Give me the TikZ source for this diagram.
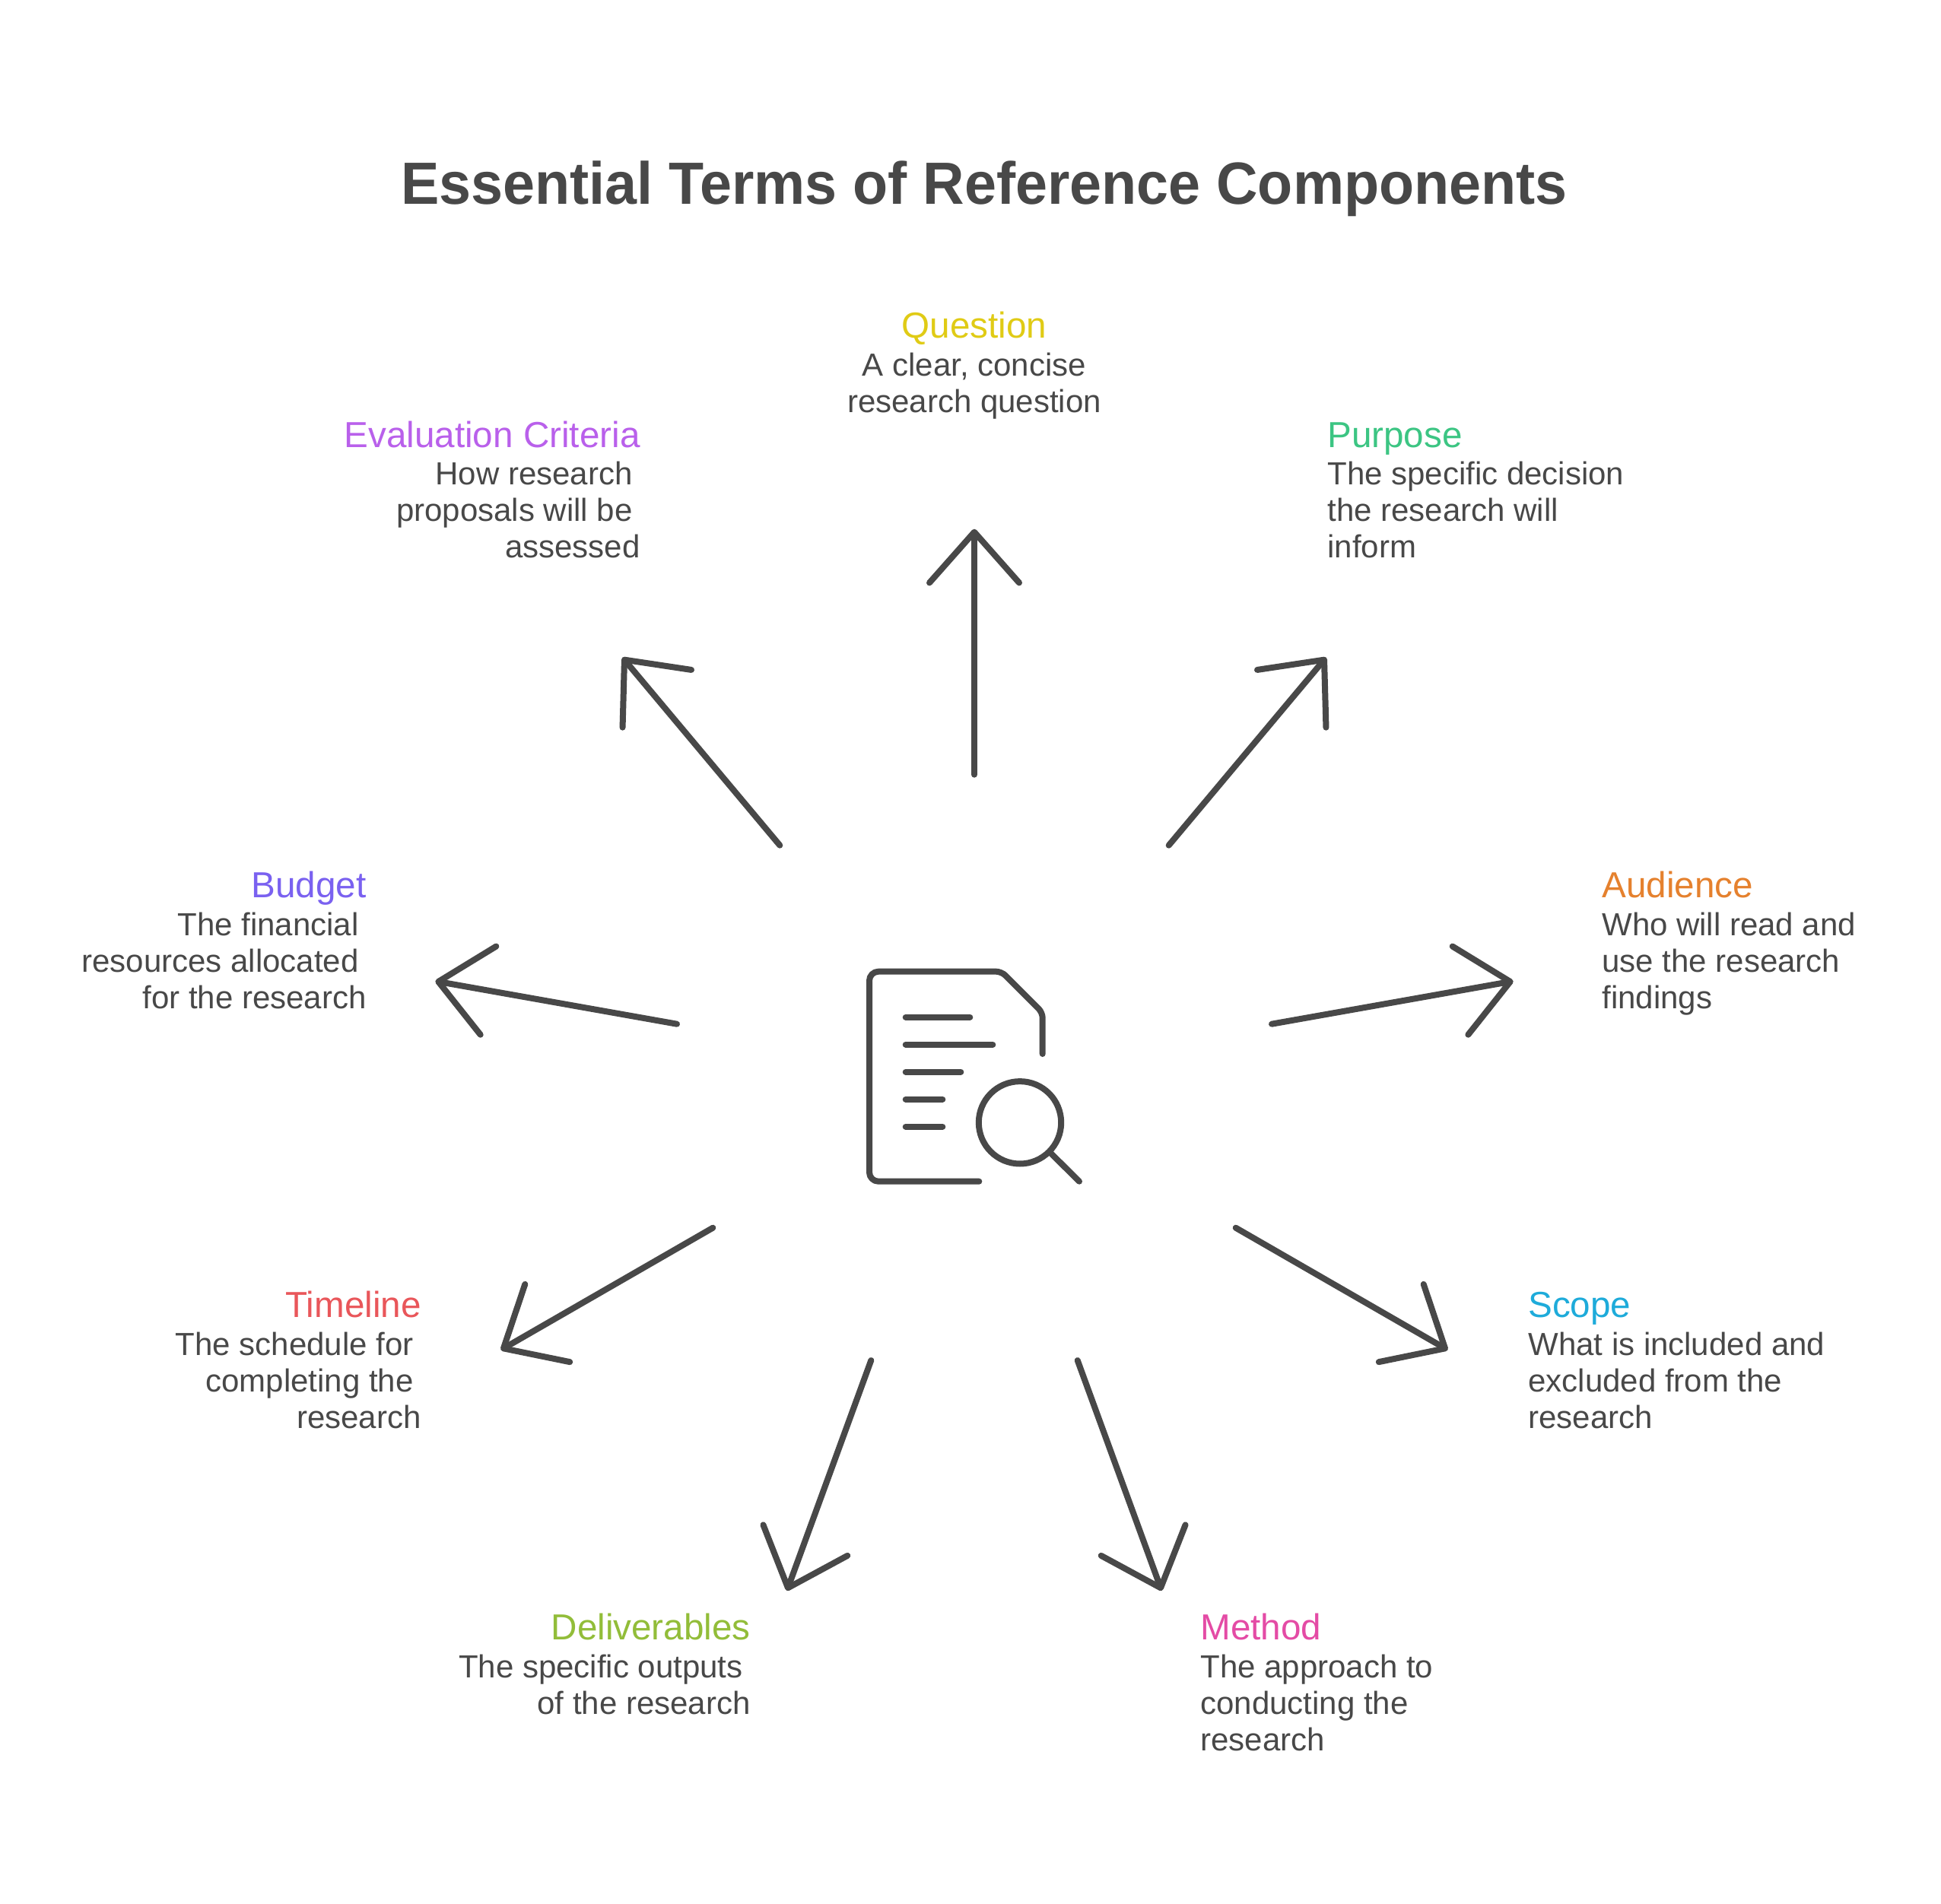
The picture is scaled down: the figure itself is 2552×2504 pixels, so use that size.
\documentclass[tikz,border=0pt]{standalone}
\usepackage{fontspec}
\setmainfont{Liberation Sans}
\newfontfamily\titlefont[FakeStretch=0.963]{Liberation Sans}
\usetikzlibrary{arrows.meta}
\definecolor{ink}{HTML}{484848}
\definecolor{cQuestion}{HTML}{E0CB15}
\definecolor{cPurpose}{HTML}{3CC583}
\definecolor{cAudience}{HTML}{E5812E}
\definecolor{cScope}{HTML}{1EABDA}
\definecolor{cMethod}{HTML}{E44BA5}
\definecolor{cDeliver}{HTML}{92BD39}
\definecolor{cTimeline}{HTML}{E9565A}
\definecolor{cBudget}{HTML}{7A61F0}
\definecolor{cEval}{HTML}{B960EB}
\newcommand{\hd}[2]{{\color{#1}\fontsize{27.1}{27.3}\selectfont #2}\\[0.9pt]}
\newcommand{\ts}{\kern5.7pt}
\tikzset{
  x=0.02cm,y=-0.02cm,
  line/.style={draw=ink,line width=0.16cm,line cap=round,line join=round},
  ray/.style={line,-{Straight Barb[length=1.334cm,width=2.36cm,round]}},
  lbl/.style={inner sep=0pt,text=ink,font=\fontsize{23.9}{27.3}\selectfont},
  lleft/.style={lbl,anchor=base west,align=left},
  lright/.style={lbl,anchor=base east,align=right},
  lmid/.style={lbl,anchor=base,align=center},
  title/.style={inner sep=0pt,anchor=base,text=ink,font=\titlefont\bfseries\fontsize{44.6}{50}\selectfont}
}
\begin{document}
\begin{tikzpicture}
\useasboundingbox (0,0) rectangle (2552,2504);
\fill[white] (0,0) rectangle (2552,2504);
\node[title] (heading) at (1294,269) {Essential Terms of Reference Components};

\node[lmid] (question) at (1281,542.5) {\hd{cQuestion}{Question}A clear, concise\\research question};
\node[lleft] (purpose) at (1745,733.5) {\hd{cPurpose}{Purpose}The specific decision\\the research will\\inform};
\node[lleft] (audience) at (2106,1326) {\hd{cAudience}{Audience}Who will read and\\use the research\\findings};
\node[lleft] (scope) at (2009,1878) {\hd{cScope}{Scope}What is included and\\excluded from the\\research};
\node[lleft] (method) at (1578,2302) {\hd{cMethod}{Method}The approach to\\conducting the\\research};
\node[lright] (deliverables) at (987,2254) {\hd{cDeliver}{Deliverables}The specific outputs\ts\\of the research};
\node[lright] (timeline) at (554,1878) {\hd{cTimeline}{Timeline}The schedule for\ts\\completing the\ts\\research};
\node[lright] (budget) at (482,1326) {\hd{cBudget}{Budget}The financial\ts\\resources allocated\ts\\for the research};
\node[lright] (evaluation) at (842,733.5) {\hd{cEval}{Evaluation Criteria}How research\ts\\proposals will be\ts\\assessed};

% rays
\coordinate (q0) at (1281,1018.7); \coordinate (q1) at (1281,695.7);
\coordinate (p0) at (1536.7,1111.7); \coordinate (p1) at (1743.6,864.6);
\coordinate (a0) at (1672,1346.7); \coordinate (a1) at (1989.6,1290.3);
\coordinate (s0) at (1624.7,1614.7); \coordinate (s1) at (1903.5,1775.3);
\coordinate (m0) at (1416.7,1789); \coordinate (m1) at (1527.4,2092);
\coordinate (d0) at (1145.3,1789); \coordinate (d1) at (1034.6,2092);
\coordinate (t0) at (937.3,1614.7);  \coordinate (t1) at (658.5,1775.3);
\coordinate (b0) at (890,1346.7);  \coordinate (b1) at (572.4,1290.3);
\coordinate (e0) at (1025.3,1111.7); \coordinate (e1) at (818.4,864.6);
\draw[ray] (q0) -- (q1);
\draw[ray] (p0) -- (p1);
\draw[ray] (a0) -- (a1);
\draw[ray] (s0) -- (s1);
\draw[ray] (m0) -- (m1);
\draw[ray] (d0) -- (d1);
\draw[ray] (t0) -- (t1);
\draw[ray] (b0) -- (b1);
\draw[ray] (e0) -- (e1);

% icon
\draw[line,rounded corners=0.14cm] (1370.7,1386) -- (1370.7,1331.7) -- (1316.7,1277.7) [rounded corners=0.24cm] -- (1143,1277.7) -- (1143,1553.7) -- (1287.3,1553.7);
\draw[line] (1190.7,1337.7) -- (1275.3,1337.7);
\draw[line] (1190.7,1373.7) -- (1305.3,1373.7);
\draw[line] (1190.7,1409.7) -- (1263.3,1409.7);
\draw[line] (1190.7,1445.7) -- (1239.3,1445.7);
\draw[line] (1190.7,1481.7) -- (1239.3,1481.7);
\draw[line] (1341,1476.3) circle[radius=1.084cm];
\draw[line] (1381.7,1516.7) -- (1419,1553.7);
\end{tikzpicture}
\end{document}
